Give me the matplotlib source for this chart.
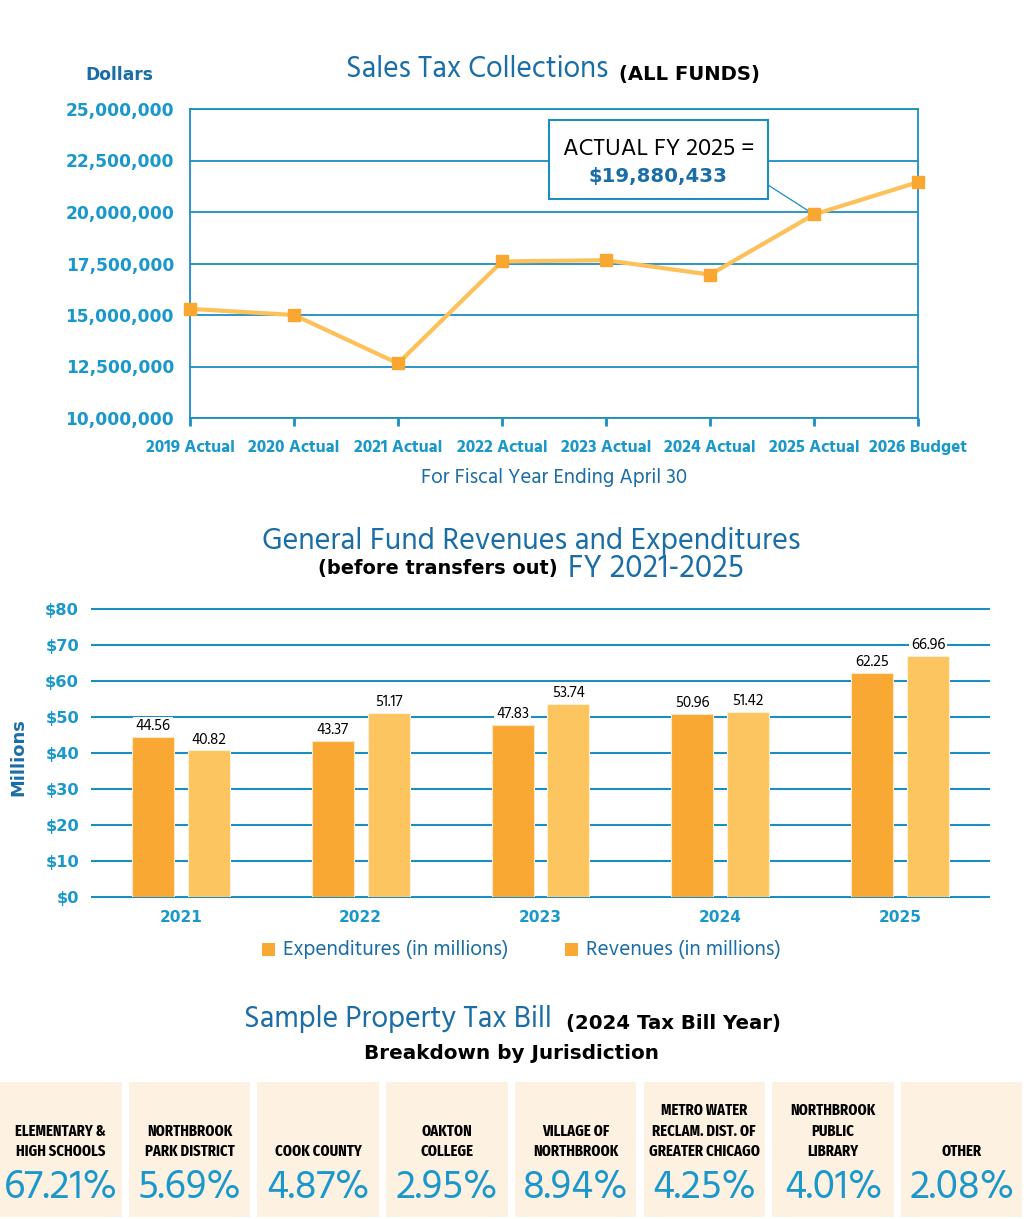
import matplotlib
matplotlib.use('Agg')
import matplotlib.pyplot as plt
from matplotlib.patches import Rectangle
from matplotlib import font_manager as fm
import numpy as np

W, H = 1024, 1219

# ---------------- data ----------------
sales_years = ['2019 Actual', '2020 Actual', '2021 Actual', '2022 Actual',
               '2023 Actual', '2024 Actual', '2025 Actual', '2026 Budget']
sales_values = [15300000, 15000000, 12650000, 17600000,
                17660000, 16960000, 19880433, 21450000]
sales_yticks = [10000000, 12500000, 15000000, 17500000,
                20000000, 22500000, 25000000]

gf_years = ['2021', '2022', '2023', '2024', '2025']
gf_expenditures = [44.56, 43.37, 47.83, 50.96, 62.25]
gf_revenues = [40.82, 51.17, 53.74, 51.42, 66.96]
gf_yticks = [0, 10, 20, 30, 40, 50, 60, 70, 80]
series_names = ['Expenditures (in millions)', 'Revenues (in millions)']

jurisdictions = ['ELEMENTARY &\nHIGH SCHOOLS', 'NORTHBROOK\nPARK DISTRICT',
                 'COOK COUNTY', 'OAKTON\nCOLLEGE', 'VILLAGE OF\nNORTHBROOK',
                 'METRO WATER\nRECLAM. DIST. OF\nGREATER CHICAGO',
                 'NORTHBROOK\nPUBLIC\nLIBRARY', 'OTHER']
shares = [67.21, 5.69, 4.87, 2.95, 8.94, 4.25, 4.01, 2.08]

# ---------------- style ----------------
BLUE = '#1a6da6'
TEAL = '#1a97cb'
GRID = '#1b8dc2'
LINE = '#fec058'
MARK = '#f9a730'
EXP = '#f9a833'
REV = '#fdc560'
CREAM = '#fdf1e1'

avail = {f.name for f in fm.fontManager.ttflist}


def pick(*names):
    for n in names:
        if n in avail:
            return n
    return 'DejaVu Sans'


REG = pick('Hind', 'Open Sans')
NARROW = pick('Fira Sans Extra Condensed', 'Fira Sans Condensed',
              'Barlow Condensed', 'Liberation Sans Narrow')
WIDEB = 'DejaVu Sans'

fig = plt.figure(figsize=(W / 100, H / 100), dpi=100)
renderer = fig.canvas.get_renderer()


def fx(x):
    return x / W


def fy(y):
    return 1 - y / H


def measure(s, size=20, **kw):
    t = fig.text(0, 0, s, fontsize=size, **kw)
    bb = t.get_window_extent(renderer)
    t.remove()
    return bb.width


def fit_size(s, width, **kw):
    return 20 * width / measure(s, 20, **kw)


def ptext(x0, x1, ybase, s, **kw):
    size = fit_size(s, x1 - x0, **kw)
    return fig.text(fx(x0), fy(ybase), s, fontsize=size, ha='left',
                    va='baseline', **kw)


# ================= Chart 1: Sales tax =================
ax1 = fig.add_axes([fx(190), fy(418), (918 - 190) / W, (418 - 109) / H])
x = np.arange(len(sales_years))
ax1.plot(x, sales_values, color=LINE, lw=3, zorder=3, clip_on=False,
         solid_joinstyle='round')
ax1.plot(x, sales_values, 's', ms=8, color=MARK, zorder=4, clip_on=False)
ax1.set_xlim(0, len(sales_years) - 1)
ax1.set_ylim(sales_yticks[0], sales_yticks[-1])
ax1.set_yticks(sales_yticks)
ax1.set_yticklabels([f'{v:,.0f}' for v in sales_yticks])
ax1.set_xticks(x)
ax1.set_xticklabels(sales_years)
ax1.grid(axis='y', color=GRID, lw=1.3)
ax1.set_axisbelow(True)
for sp in ax1.spines.values():
    sp.set_color(GRID)
    sp.set_linewidth(1.3)
ytick_size = fit_size('25,000,000', 108, family=WIDEB, weight='bold')
xtick_size = fit_size('2019 Actual', 89, family=REG, weight='bold')
ax1.tick_params(axis='y', length=0, pad=11.5, labelcolor=TEAL,
                labelsize=ytick_size)
ax1.tick_params(axis='x', length=6, width=2, color=GRID, direction='out',
                pad=10, labelcolor=TEAL, labelsize=xtick_size)
for lab in ax1.get_yticklabels():
    lab.set_family(WIDEB)
    lab.set_weight('bold')
for lab in ax1.get_xticklabels():
    lab.set_family(REG)
    lab.set_weight('bold')

ptext(85, 153, 80, 'Dollars', family=WIDEB, weight='bold', color=BLUE)
ptext(346, 609, 77, 'Sales Tax Collections', family=REG, color=BLUE)
ptext(619, 760, 80, '(ALL FUNDS)', family=WIDEB, weight='bold', color='black')
ptext(421, 687, 483, 'For Fiscal Year Ending April 30', family=REG, color=BLUE)

# callout
fig.add_artist(Rectangle((fx(549), fy(199)), (768 - 549) / W, (199 - 120) / H,
                         transform=fig.transFigure, facecolor='white',
                         edgecolor=GRID, lw=1.5, zorder=5))
ax1.annotate('', xy=(6, sales_values[6]), xytext=(fx(768), fy(185)),
             textcoords='figure fraction',
             arrowprops=dict(arrowstyle='-', color=GRID, lw=0.9,
                             shrinkA=0, shrinkB=0), zorder=2)
t = ptext(563, 755, 155, 'ACTUAL FY 2025 =', family=REG, color='black')
t.set_zorder(6)
t = ptext(588, 727, 182, f'${sales_values[6]:,}', family=WIDEB, weight='bold',
          color=BLUE)
t.set_zorder(6)

# ================= Chart 2: General fund =================
ax2 = fig.add_axes([fx(91), fy(897), (990 - 91) / W, (897 - 609) / H])
xs = np.arange(len(gf_years))
off, bw = 0.155, 0.233
b1 = ax2.bar(xs - off, gf_expenditures, bw, color=EXP, edgecolor='#fde9c4',
             lw=0.8, zorder=3)
b2 = ax2.bar(xs + off, gf_revenues, bw, color=REV, edgecolor='#fef0d4',
             lw=0.8, zorder=3)
ax2.set_xlim(-0.5, len(gf_years) - 0.5)
ax2.set_ylim(gf_yticks[0], gf_yticks[-1])
ax2.hlines(gf_yticks, -0.5, len(gf_years) - 0.5, color=GRID, lw=1.5,
           zorder=1, clip_on=False)
for sp in ax2.spines.values():
    sp.set_visible(False)
ax2.set_yticks(gf_yticks)
ax2.set_yticklabels([f'${v}' for v in gf_yticks])
ax2.set_xticks(xs)
ax2.set_xticklabels(gf_years)
y2size = fit_size('$80', 34, family=WIDEB, weight='bold')
x2size = fit_size('2021', 43, family=WIDEB, weight='bold')
ax2.tick_params(axis='y', length=0, pad=8.6, labelcolor=TEAL, labelsize=y2size)
ax2.tick_params(axis='x', length=0, pad=9.5, labelcolor=TEAL, labelsize=x2size)
for lab in ax2.get_yticklabels() + ax2.get_xticklabels():
    lab.set_family(WIDEB)
    lab.set_weight('bold')

vsize = fit_size('44.56', 35, family=REG)
for rects, vals in ((b1, gf_expenditures), (b2, gf_revenues)):
    for r, v in zip(rects, vals):
        ax2.annotate(f'{v:.2f}', (r.get_x() + r.get_width() / 2, v),
                     xytext=(0, 2.5), textcoords='offset points',
                     ha='center', va='bottom', fontsize=vsize, family=REG,
                     color='black',
                     bbox=dict(fc='white', ec='none', pad=1.5), zorder=4)

msize = fit_size('Millions', 78, family=WIDEB, weight='bold')
fig.text(fx(18.5), fy(757), 'Millions', rotation=90, ha='center', va='center',
         fontsize=msize, family=WIDEB, weight='bold', color=BLUE)

ptext(262, 802, 549, 'General Fund Revenues and Expenditures', family=REG,
      color=BLUE)
ptext(318, 557, 574, '(before transfers out)', family=WIDEB, weight='bold',
      color='black')
ptext(568, 744, 577, 'FY 2021-2025', family=REG, color=BLUE)

for (sx, tx0, tx1, name, col) in [(262, 283, 508, series_names[0], EXP),
                                  (565, 586, 780, series_names[1], EXP)]:
    fig.add_artist(Rectangle((fx(sx), fy(956)), 13 / W, 13 / H,
                             transform=fig.transFigure, fc=col, ec='none'))
    ptext(tx0, tx1, 955, name, family=REG, color=BLUE)

# ================= Property tax boxes =================
ptext(244, 553, 1027, 'Sample Property Tax Bill', family=REG, color=BLUE)
ptext(566, 781, 1029, '(2024 Tax Bill Year)', family=WIDEB, weight='bold',
      color='black')
ptext(364, 659, 1059, 'Breakdown by Jurisdiction', family=WIDEB, weight='bold',
      color='black')

lsize = fit_size('HIGH SCHOOLS', 89, family=NARROW, weight='bold')
psize = fit_size('67.21%', 114, family=REG)
for i, (name, share) in enumerate(zip(jurisdictions, shares)):
    x0 = i * 128.7
    w = 121.5
    fig.add_artist(Rectangle((fx(x0), fy(1217)), w / W, (1217 - 1082) / H,
                             transform=fig.transFigure, fc=CREAM, ec='none',
                             zorder=0))
    cx = x0 + w / 2
    lines = name.split('\n')
    for j, line in enumerate(lines):
        yb = 1156 - (len(lines) - 1 - j) * 20.5
        fig.text(fx(cx), fy(yb), line, ha='center', va='baseline',
                 fontsize=lsize, family=NARROW, weight='bold', color='black')
    fig.text(fx(cx), fy(1198), f'{share:.2f}%', ha='center', va='baseline',
             fontsize=psize, family=REG, color=TEAL)

fig.savefig('out.png', dpi=100)
